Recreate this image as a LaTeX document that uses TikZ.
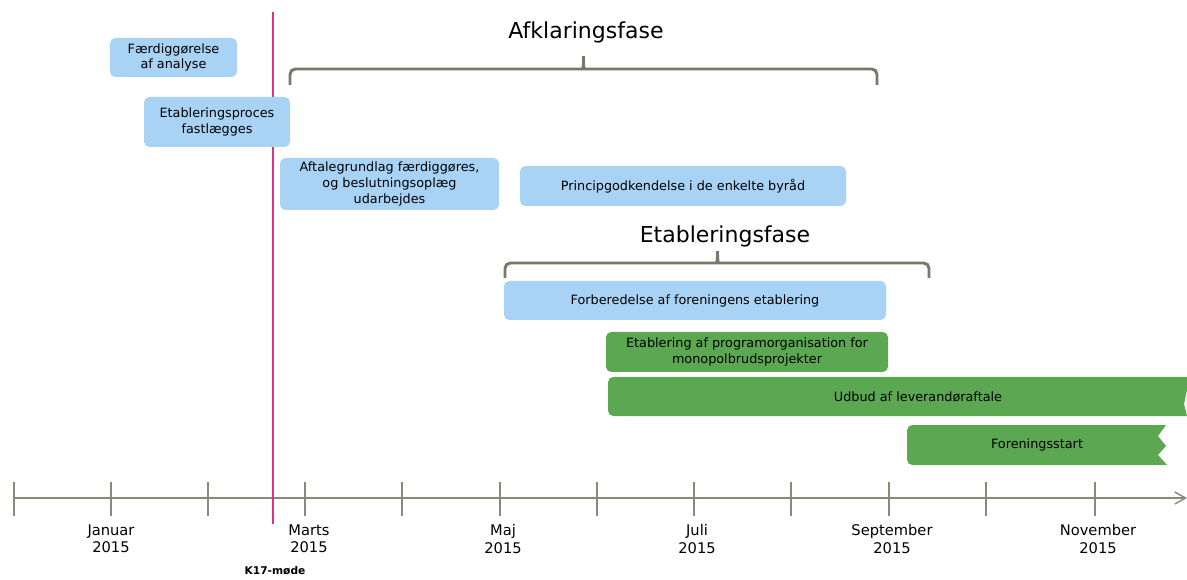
\documentclass[tikz,border=0pt]{standalone}
\usepackage{fontspec}
\setmainfont{DejaVu Sans}
\usetikzlibrary{arrows.meta}
\usetikzlibrary{positioning}
\definecolor{phaseblue}{HTML}{A9D3F4}
\definecolor{phasegreen}{HTML}{5CA852}
\definecolor{bracegray}{HTML}{77776A}
\definecolor{axisgray}{HTML}{8A8A7C}
\definecolor{markpink}{HTML}{E0308C}
\tikzset{
    bluebox/.style={
        fill=phaseblue,
        rounded corners=4pt,
        align=center,
        inner sep=0pt,
        font=\fontsize{9.6}{11.8}\selectfont
    },
    greenbox/.style={
        bluebox,
        fill=phasegreen
    },
    bartext/.style={
        font=\fontsize{9.6}{11.8}\selectfont
    },
    phasebrace/.style={
        draw=bracegray,
        line width=2.2pt,
        rounded corners=4pt
    },
    axisline/.style={
        draw=axisgray,
        line width=1.1pt
    },
    monthlabel/.style={
        align=center,
        font=\fontsize{11}{13}\selectfont
    },
    phasetitle/.style={
        font=\fontsize{16.5}{18}\selectfont
    }
}

\begin{document}
\begin{tikzpicture}[x=0.75pt, y=-0.75pt]
  \useasboundingbox (0,0) rectangle (1187,580);

  % Tidslinje med maaneder
  \coordinate (axL) at (14,498);
  \coordinate (axR) at (1187,498);
  \draw[axisline, -{Straight Barb[length=8pt, width=9pt]}] (axL) -- (axR);
  \foreach \x in {14,111,208,305,402,500,597,694,791,889,986,1095}
    \draw[axisline] (\x,482) -- (\x,516);
  \foreach \x/\m in {111/Januar, 309/Marts, 503/Maj, 697/Juli, 892/September, 1098/November}
    \node[monthlabel] (m-\m) at (\x,539) {\m\\2015};

  % K17-moede markering
  \coordinate (k17top) at (273,12);
  \coordinate (k17bot) at (273,524);
  \draw[markpink, line width=1.2pt] (k17top) -- (k17bot);
  \node[font=\bfseries\fontsize{8}{9}\selectfont, anchor=base] (k17) at (275,574) {K17-møde};

  % Afklaringsfase
  \node[phasetitle] (afk) at (586,32) {Afklaringsfase};
  \coordinate (afkL) at (290,85);
  \coordinate (afkR) at (877,85);
  \draw[phasebrace] (afkL) |- (577,69) to[out=0, in=-90] (583.5,53)
    to[out=-90, in=180] (590,69) -| (afkR);

  \node[bluebox, minimum width=95.25pt, minimum height=29.25pt] (analyse) at (173.5,57.5) {Færdiggørelse\\af analyse};
  \node[bluebox, minimum width=109.5pt, minimum height=37.5pt] (proces) at (217,122) {Etableringsproces\\fastlægges};
  \node[bluebox, minimum width=164.25pt, minimum height=39pt] (aftale) at (389.5,184) {Aftalegrundlag færdiggøres,\\og beslutningsoplæg\\udarbejdes};
  \node[bluebox, minimum width=244.5pt, minimum height=30pt] (byraad) at (683,186) {Principgodkendelse i de enkelte byråd};

  % Etableringsfase
  \node[phasetitle] (etab) at (725,236) {Etableringsfase};
  \coordinate (etabL) at (505,278);
  \coordinate (etabR) at (929,278);
  \draw[phasebrace] (etabL) |- (711,263) to[out=0, in=-90] (717.5,248)
    to[out=-90, in=180] (724,263) -| (etabR);

  \node[bluebox, minimum width=286.5pt, minimum height=29.25pt] (forb) at (695,300.5) {Forberedelse af foreningens etablering};
  \node[greenbox, minimum width=211.5pt, minimum height=30pt] (progorg) at (747,352) {Etablering af programorganisation for\\monopolbrudsprojekter};

  % Udbud fortsaetter ud over kanten
  \fill[phasegreen] (1187,377) [rounded corners=4pt] -- (608,377) -- (608,416)
    [sharp corners] -- (1187,416) -- (1184,404) -- (1187,390) -- cycle;
  \node[bartext] (udbud) at (918,396.5) {Udbud af leverandøraftale};

  % Foreningsstart med takket ende
  \fill[phasegreen] (1166,425) [rounded corners=4pt] -- (907,425) -- (907,465)
    [sharp corners] -- (1167,465) -- (1158,455) -- (1166,446) -- (1158,436) -- cycle;
  \node[bartext] (start) at (1037,445) {Foreningsstart};
\end{tikzpicture}
\end{document}
